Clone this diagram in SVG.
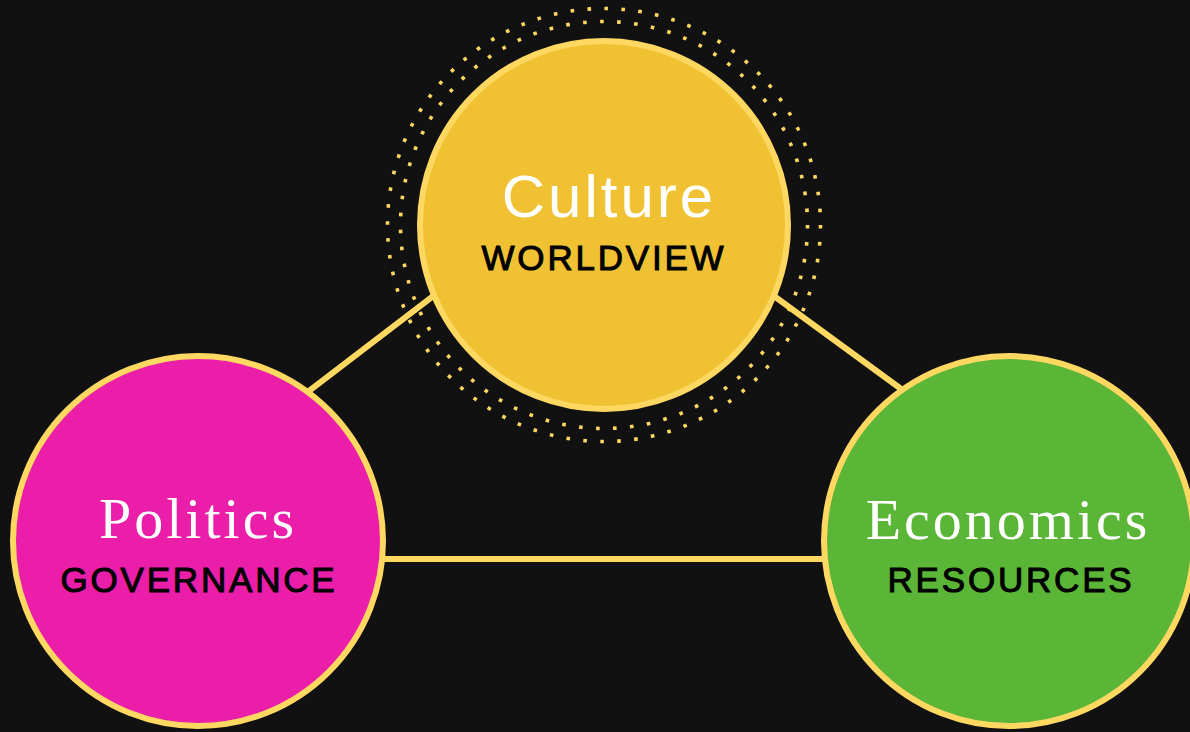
<svg xmlns="http://www.w3.org/2000/svg" width="1190" height="732" viewBox="0 0 1190 732">
<style>
.bg{fill:#111111}
.conn{stroke:#FFD862;stroke-width:6;fill:none}
.ring{fill:none;stroke:#FFD862;stroke-width:3.6}
.node{stroke:#FFD862;stroke-width:6}
.title-sans{font-family:"Liberation Sans",Arial,sans-serif;font-size:60px;fill:#FFFFFF;text-anchor:middle;letter-spacing:3px}
.title-serif{font-family:"Liberation Serif","Times New Roman",serif;font-size:58px;fill:#FFFFFF;text-anchor:middle;letter-spacing:3px}
.sub{font-family:"Liberation Sans",Arial,sans-serif;font-size:35px;fill:#000000;text-anchor:middle;letter-spacing:2.8px;stroke:#000;stroke-width:1}
</style>
<rect class="bg" x="0" y="0" width="1190" height="732"/>
<g id="connectors">
<line class="conn" x1="250" y1="436" x2="500" y2="245"/>
<line class="conn" x1="700" y1="242" x2="960" y2="432"/>
<line class="conn" x1="300" y1="559" x2="900" y2="559"/>
</g>
<g id="culture">
<circle class="ring" cx="604" cy="225" r="216.5" stroke-dasharray="3.6 13.404"/>
<circle class="ring" cx="604" cy="225" r="203.5" stroke-dasharray="3.6 13.448"/>
<circle class="node" cx="604" cy="225" r="184" fill="#F0C233"/>
<text class="title-sans" x="609" y="217">Culture</text>
<text class="sub" x="604" y="270" font-size="37" letter-spacing="3.6">WORLDVIEW</text>
</g>
<g id="politics">
<circle class="node" cx="198" cy="541" r="185" fill="#EA1EA9"/>
<text class="title-serif" x="198" y="538">Politics</text>
<text class="sub" x="199" y="592" letter-spacing="3">GOVERNANCE</text>
</g>
<g id="economics">
<circle class="node" cx="1009" cy="541" r="185" fill="#5BB536"/>
<text class="title-serif" x="1008" y="539">Economics</text>
<text class="sub" x="1011" y="592">RESOURCES</text>
</g>
</svg>
